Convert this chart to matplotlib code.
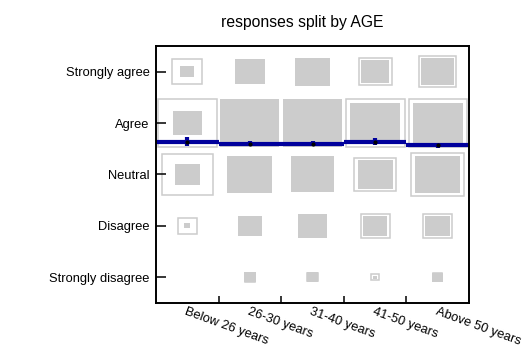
import matplotlib
matplotlib.use("Agg")
import matplotlib.pyplot as plt
import matplotlib.patches as patches

plt.rcParams['font.family'] = ['Liberation Sans', 'DejaVu Sans']

# age groups (columns) and response levels (rows, 1 = strongly disagree)
ages = ["Below 26 years", "26-30 years", "31-40 years", "41-50 years", "Above 50 years"]
responses = ["Strongly disagree", "Disagree", "Neutral", "Agree", "Strongly agree"]

# relative box sizes (share of cell side), rows in order of `responses`
observed = [
    [0.00, 0.10, 0.39, 0.47, 0.22],   # Below 26 years
    [0.20, 0.38, 0.72, 0.94, 0.49],   # 26-30 years
    [0.19, 0.46, 0.70, 0.94, 0.55],   # 31-40 years
    [0.06, 0.39, 0.56, 0.79, 0.44],   # 41-50 years
    [0.18, 0.40, 0.72, 0.80, 0.52],   # Above 50 years
]
expected = [
    [0.00, 0.31, 0.81, 0.94, 0.48],
    [0.17, 0.35, 0.68, 0.90, 0.45],
    [0.16, 0.42, 0.66, 0.90, 0.50],
    [0.12, 0.46, 0.66, 0.94, 0.53],
    [0.15, 0.46, 0.84, 0.93, 0.60],
]

# mean response per age group and its error
means = [3.64, 3.60, 3.60, 3.64, 3.57]
errors = [0.09, 0.05, 0.045, 0.065, 0.05]

gray = '#cccccc'
blue = '#00009c'

fig = plt.figure(figsize=(5.29, 3.46), dpi=100)
ax = fig.add_axes([0.2949, 0.1243, 0.5917, 0.7428])

for i in range(len(ages)):
    x = i + 1
    for j in range(len(responses)):
        y = j + 1
        s = observed[i][j]
        if s > 0:
            ax.add_patch(patches.Rectangle((x - s / 2, y - s / 2), s, s,
                                           facecolor=gray, edgecolor='none'))
        e = expected[i][j]
        if e > 0:
            ax.add_patch(patches.Rectangle((x - e / 2, y - e / 2), e, e,
                                           facecolor='none', edgecolor=gray, linewidth=1.1))

# mean line as steps per column
for i, m in enumerate(means):
    ax.plot([i + 0.5, i + 1.5], [m, m], color=blue, linewidth=3, solid_capstyle='butt')
xs = list(range(1, len(ages) + 1))
ax.errorbar(xs, means, yerr=errors, fmt='none', ecolor=blue, elinewidth=3, capsize=0)
ax.plot(xs, means, 'o', color='black', markersize=2)

ax.set_xlim(0.5, 5.5)
ax.set_ylim(0.5, 5.5)

ax.set_yticks(range(1, 6))
ax.set_yticklabels(responses, fontsize=9.3)
ax.tick_params(axis='y', direction='in', length=7, width=1.1, pad=4.5)

ax.set_xticks(xs)
ax.set_xticklabels(ages, fontsize=9.3, rotation=-20, ha='left', va='top',
                   rotation_mode='anchor')
ax.tick_params(axis='x', which='major', length=0, pad=2)
ax.set_xticks([1.5, 2.5, 3.5, 4.5], minor=True)
ax.tick_params(axis='x', which='minor', direction='in', length=5, width=1.1)

for sp in ax.spines.values():
    sp.set_linewidth(1.4)

fig.text(302.5 / 529, 1 - 23 / 346, "responses split by AGE", fontsize=11.3,
         ha='center', va='center')

fig.savefig("out.png", dpi=100)
